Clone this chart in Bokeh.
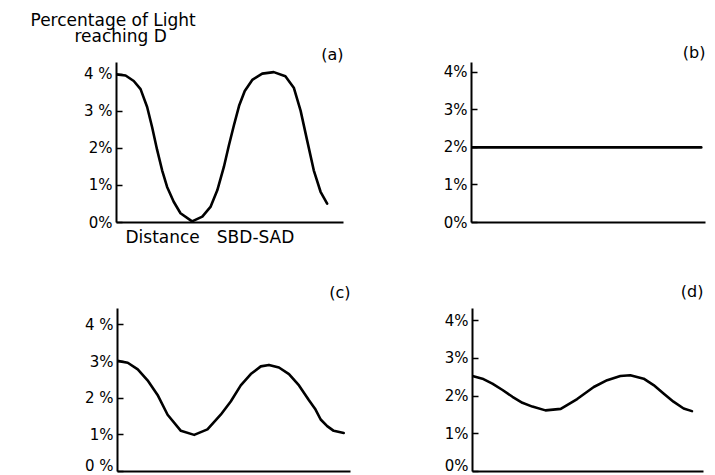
from bokeh.plotting import figure
from bokeh.models import Range1d, FixedTicker, Title
from bokeh.layouts import column, row
from bokeh.embed import file_html
from bokeh.resources import INLINE

# ---------------- data ----------------
y_ticks = [0, 1, 2, 3, 4]

a_x = [0, 4.0, 7.6, 10.6, 13.5, 15.7, 17.9, 20.1, 22.3, 25.2, 28.2, 33.3, 37.8,
       41.4, 44.4, 47.3, 49.5, 51.7, 54.0, 56.5, 59.8, 64.2, 69.3, 74.4, 78.1,
       81.1, 84.0, 86.9, 89.9, 92.8]
a_y = [4.00, 3.97, 3.82, 3.60, 3.12, 2.57, 1.96, 1.41, 0.96, 0.56, 0.25, 0.03, 0.16,
       0.42, 0.87, 1.50, 2.08, 2.62, 3.15, 3.55, 3.85, 4.02, 4.06, 3.95, 3.64,
       3.02, 2.21, 1.41, 0.83, 0.51]

b_x = [0, 98.2]
b_y = [2.0, 2.0]

c_x = [0, 4.4, 8.7, 12.9, 17.2, 21.5, 27.2, 32.9, 38.6, 44.3, 48.6, 52.9, 57.2,
       61.5, 65.0, 69.3, 73.6, 77.9, 82.1, 85.0, 87.2, 90.0, 92.8, 97.1]
c_y = [3.02, 2.97, 2.79, 2.49, 2.09, 1.55, 1.11, 1.00, 1.15, 1.55, 1.91, 2.35, 2.66,
       2.87, 2.91, 2.84, 2.66, 2.35, 1.95, 1.69, 1.42, 1.24, 1.11, 1.05]

d_x = [0, 4.3, 8.6, 13.0, 17.3, 21.6, 25.9, 31.6, 38.2, 45.3, 52.5, 58.3, 64.0,
       68.3, 74.1, 78.4, 82.7, 87.0, 91.4, 95.0]
d_y = [2.53, 2.46, 2.33, 2.16, 1.98, 1.82, 1.72, 1.62, 1.66, 1.92, 2.24, 2.42, 2.53,
       2.55, 2.46, 2.29, 2.07, 1.85, 1.67, 1.60]

a_labels = ["0%", "1%", "2%", "3 %", "4 %"]
b_labels = ["0%", "1%", "2%", "3%", "4%"]
c_labels = ["0 %", "1%", "2 %", "3%", "4 %"]
d_labels = ["0%", "1%", "2%", "3%", "4%"]

panel_letters = ["(a)", "(b)", "(c)", "(d)"]
title_lines = ["Percentage of Light", "reaching D"]
x_caption = "Distance\u2003SBD-SAD"

FONT = "DejaVu Sans"


def make_title(text, align, offset, standoff, size="17px"):
    return Title(text=text, align=align, offset=offset, standoff=standoff,
                 text_font=FONT, text_font_size=size, text_font_style="normal",
                 text_color="black")


def panel(w, h, left, right, top, bottom, ytop, xs, ys, letter, labels, letter_standoff):
    p = figure(width=w, height=h, x_range=Range1d(0, 100), y_range=Range1d(0, ytop),
               output_backend="svg", toolbar_location=None, title=None,
               min_border_left=left, min_border_right=right,
               min_border_top=top, min_border_bottom=bottom)
    p.outline_line_color = None
    p.xgrid.visible = False
    p.ygrid.visible = False
    p.background_fill_color = "white"
    p.border_fill_color = "white"

    xa = p.xaxis[0]
    xa.ticker = FixedTicker(ticks=[])
    xa.major_tick_out = 0
    xa.major_tick_in = 0
    xa.minor_tick_out = 0
    xa.minor_tick_in = 0
    xa.major_label_standoff = 0
    xa.major_label_text_font_size = "0px"
    xa.axis_line_width = 2
    xa.axis_line_color = "black"

    ya = p.yaxis[0]
    ya.ticker = FixedTicker(ticks=y_ticks)
    ya.major_label_overrides = {t: lab for t, lab in zip(y_ticks, labels)}
    ya.major_tick_in = 6
    ya.major_tick_out = 0
    ya.minor_tick_in = 0
    ya.minor_tick_out = 0
    ya.major_tick_line_width = 1.5
    ya.axis_line_width = 2
    ya.axis_line_color = "black"
    ya.major_label_standoff = 4
    ya.major_label_text_font = FONT
    ya.major_label_text_font_size = "15px"
    ya.major_label_text_color = "black"

    p.line(xs, ys, line_color="black", line_width=2.6, line_join="round", line_cap="round")

    p.add_layout(make_title(letter, "right", 0, letter_standoff, "16px"), "above")
    return p


# top row height 250, bottom row height 224 (page has no margin)
pa = panel(358, 250, 116, 15, 62, 27, 4.32, a_x, a_y, panel_letters[0], a_labels, -2)
pb = panel(354, 250, 113, 7, 60, 28, 4.26, b_x, b_y, panel_letters[1], b_labels, 1)
pc = panel(358, 224, 117, 8, 55, 3, 4.45, c_x, c_y, panel_letters[2], c_labels, 14)
pd = panel(354, 224, 114, 9, 58, 2, 4.32, d_x, d_y, panel_letters[3], d_labels, 15)

# y-axis title (two lines) above panel (a); stacked outward from the frame
pa.add_layout(make_title(title_lines[1], "left", -42, -4), "above")
pa.add_layout(make_title(title_lines[0], "left", -86, -9), "above")
# x-axis caption under panel (a)
pa.add_layout(make_title(x_caption, "left", 9, 5), "below")

layout = column(row(pa, pb), row(pc, pd))

open("out.html", "w").write(file_html(layout, INLINE))
